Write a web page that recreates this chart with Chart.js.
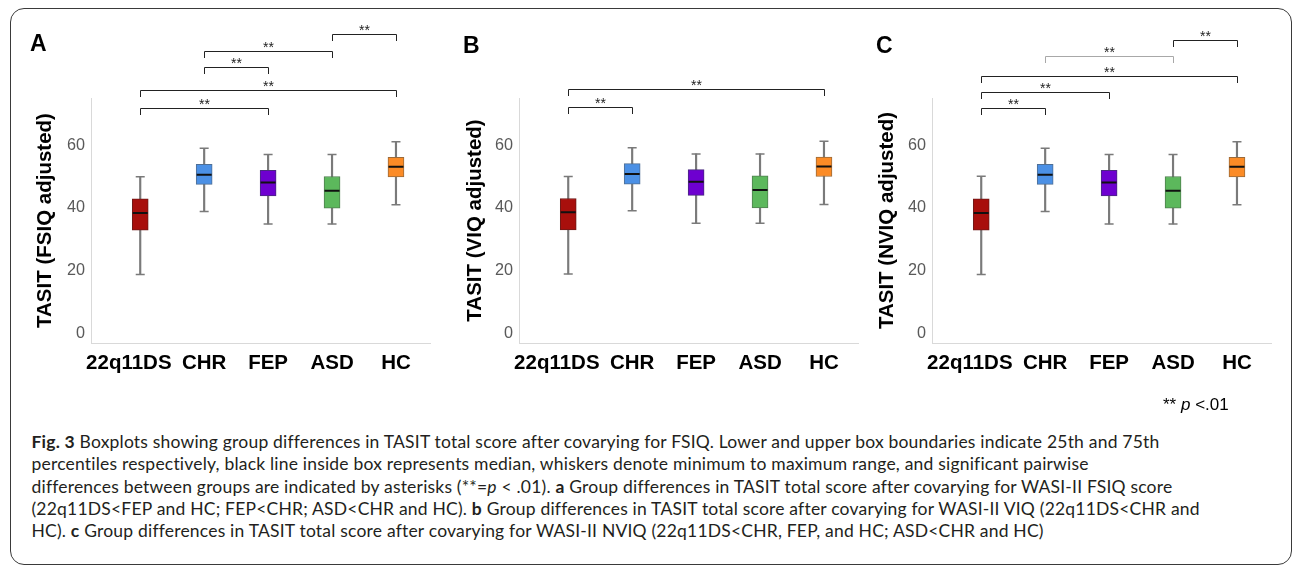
<!DOCTYPE html>
<html>
<head>
<meta charset="utf-8">
<script src="https://cdn.jsdelivr.net/npm/chart.js@4.4.1/dist/chart.umd.min.js"></script>
<style>
  body { margin: 0; width: 1292px; height: 567px; overflow: hidden; position: relative; background: #fff; font-family: 'Liberation Sans', Arial, sans-serif; }
  #frame { position: absolute; left: 10px; top: 8px; width: 1282px; height: 557px; border: 1.5px solid #3a3a3a; border-radius: 14px; box-sizing: border-box; }
  canvas { position: absolute; top: 0; }
  .letter { position: absolute; font: bold 23px 'Liberation Sans', Arial, sans-serif; line-height: 23px; color: #000; }
  #pnote { position: absolute; left: 1163px; top: 395px; font-size: 17px; line-height: 20px; color: #000; }
  #caption { position: absolute; left: 31.5px; top: 431px; font-family: Lato, sans-serif; font-size: 17.5px; letter-spacing: 0.2px; line-height: 22.25px; color: #231f20; white-space: nowrap; }
</style>
</head>
<body>
<div id="frame"></div>
<canvas id="chartA" width="430" height="400" style="left:10px"></canvas>
<canvas id="chartB" width="430" height="400" style="left:438px"></canvas>
<canvas id="chartC" width="430" height="400" style="left:851px"></canvas>
<div class="letter" style="left:30px;top:32px">A</div>
<div class="letter" style="left:463px;top:34px">B</div>
<div class="letter" style="left:876px;top:34px">C</div>
<div id="pnote">** <i>p</i> &lt;.01</div>
<div id="caption">
<b>Fig. 3</b> Boxplots showing group differences in TASIT total score after covarying for FSIQ. Lower and upper box boundaries indicate 25th and 75th<br>
percentiles respectively, black line inside box represents median, whiskers denote minimum to maximum range, and significant pairwise<br>
differences between groups are indicated by asterisks (**=<i>p</i> &lt; .01). <b>a</b> Group differences in TASIT total score after covarying for WASI-II FSIQ score<br>
(22q11DS&lt;FEP and HC; FEP&lt;CHR; ASD&lt;CHR and HC). <b>b</b> Group differences in TASIT total score after covarying for WASI-II VIQ (22q11DS&lt;CHR and<br>
HC). <b>c</b> Group differences in TASIT total score after covarying for WASI-II NVIQ (22q11DS&lt;CHR, FEP, and HC; ASD&lt;CHR and HC)
</div>
<script>
const groups = ['22q11DS', 'CHR', 'FEP', 'ASD', 'HC'];
const yTicks = [0, 20, 40, 60];

// A: FSIQ adjusted
const minA = [18.8, 38.9, 34.9, 34.9, 41.0];
const q1A  = [32.9, 47.5, 43.8, 39.9, 49.9];
const medA = [38.4, 50.6, 48.1, 45.5, 53.1];
const q3A  = [42.9, 53.9, 52.0, 50.0, 56.1];
const maxA = [49.9, 59.0, 57.0, 57.0, 61.1];
const sigA = [[0, 2], [0, 4], [1, 2], [1, 3], [3, 4]];

// B: VIQ adjusted
const minB = [19.0, 39.1, 35.1, 35.1, 41.1];
const q1B  = [33.0, 47.6, 44.0, 40.0, 50.0];
const medB = [38.6, 50.8, 48.3, 45.7, 53.2];
const q3B  = [43.0, 54.1, 52.2, 50.2, 56.2];
const maxB = [50.0, 59.2, 57.2, 57.2, 61.2];
const sigB = [[0, 1], [0, 4]];

// C: NVIQ adjusted
const minC = [18.8, 38.9, 34.9, 34.9, 41.0];
const q1C  = [32.9, 47.5, 43.8, 39.9, 49.9];
const medC = [38.4, 50.6, 48.1, 45.5, 53.1];
const q3C  = [42.9, 53.9, 52.0, 50.0, 56.1];
const maxC = [50.1, 59.0, 57.0, 57.0, 61.1];
const sigC = [[0, 1], [0, 2], [0, 4], [1, 3], [3, 4]];

const boxColors = ['#a80f0c', '#4b90e5', '#6e00d0', '#5cb85c', '#fb8b26'];
const boxEdges = ['#6e1a18', '#4f6f95', '#4a2a80', '#4f7f4f', '#9a6a3a'];
const whiskerColor = '#7a7a7a';

const bracketPlugin = {
    id: 'brackets',
    afterDatasetsDraw(chart, args, opts) {
        const ctx = chart.ctx;
        const x = chart.scales.x;
        ctx.save();
        opts.pairs.forEach((p, k) => {
            const x1 = Math.round(x.getPixelForValue(p[0])) + 0.5;
            const x2 = Math.round(x.getPixelForValue(p[1])) + 0.5;
            const y = opts.levels[k];
            ctx.strokeStyle = opts.colors[k];
            ctx.lineWidth = 1;
            ctx.beginPath();
            ctx.moveTo(x1, y + 6.5);
            ctx.lineTo(x1, y);
            ctx.lineTo(x2, y);
            ctx.lineTo(x2, y + 6.5);
            ctx.stroke();
            ctx.fillStyle = '#222';
            ctx.font = '14px "Liberation Sans", Arial, sans-serif';
            ctx.textAlign = 'center';
            ctx.textBaseline = 'alphabetic';
            ctx.fillText('**', (x1 + x2) / 2, y + 0.5);
        });
        ctx.restore();
    }
};

// the first label sits a little left of its box in the original
const tickText = (v, i) => (i === 0 ? groups[i] + '    ' : groups[i]);

function boxPanel(id, mins, q1s, meds, q3s, maxs, title, titlePad, sig, levels, colors) {
    const whiskers = groups.map((g, i) => ({ x: i, y: [mins[i], maxs[i]] }));
    const boxes = groups.map((g, i) => ({ x: i, y: [q1s[i], q3s[i]] }));
    const medians = meds.map((v, i) => ({ x: i, y: v }));
    const caps = mins.map((v, i) => ({ x: i, y: v })).concat(maxs.map((v, i) => ({ x: i, y: v })));

    new Chart(document.getElementById(id), {
        type: 'bar',
        data: {
            datasets: [
                { data: whiskers, backgroundColor: whiskerColor, barThickness: 1.5, grouped: false, order: 4 },
                { data: boxes, backgroundColor: boxColors, borderColor: boxEdges, borderWidth: 1, borderSkipped: false, barThickness: 16, grouped: false, order: 3 },
                { type: 'scatter', data: caps, pointStyle: 'line', pointRadius: 4.5, borderColor: whiskerColor, borderWidth: 1.5, order: 2 },
                { type: 'scatter', data: medians, pointStyle: 'line', pointRadius: 7.5, borderColor: '#111', borderWidth: 2, order: 1 }
            ]
        },
        options: {
            responsive: false,
            animation: false,
            events: [],
            layout: { padding: { top: 98, right: 5.7, left: 0, bottom: 0 } },
            plugins: {
                legend: { display: false },
                tooltip: { enabled: false },
                brackets: { pairs: sig, levels: levels, colors: colors }
            },
            scales: {
                x: {
                    type: 'linear',
                    offset: false,
                    min: -0.77,
                    max: 4.54,
                    grid: { display: false, drawTicks: false, offset: false },
                    border: { color: '#d9d9d9' },
                    afterBuildTicks: s => { s.ticks = groups.map((g, i) => ({ value: i })); },
                    afterFit: s => { s.height = 57; },
                    ticks: {
                        callback: tickText,
                        autoSkip: false,
                        maxRotation: 0,
                        padding: 8,
                        color: '#000',
                        font: { family: '"Liberation Sans", Arial, sans-serif', size: 20.5, weight: 'bold' }
                    }
                },
                y: {
                    min: -3,
                    max: 75,
                    grid: { display: false, drawTicks: false },
                    border: { color: '#d9d9d9' },
                    afterBuildTicks: s => { s.ticks = yTicks.map(v => ({ value: v })); },
                    afterFit: s => { s.width = 81; },
                    ticks: {
                        padding: 6,
                        color: '#595959',
                        font: { family: '"Liberation Sans", Arial, sans-serif', size: 16.2 }
                    },
                    title: {
                        display: true,
                        text: title,
                        color: '#000',
                        padding: { top: titlePad, bottom: 0 },
                        font: { family: '"Liberation Sans", Arial, sans-serif', size: 20.5, weight: 'bold' }
                    }
                }
            }
        },
        plugins: [bracketPlugin]
    });
}

const dark = '#222';
boxPanel('chartA', minA, q1A, medA, q3A, maxA, 'TASIT (FSIQ adjusted)', 22.7, sigA,
    [108.5, 90.5, 67.5, 51.5, 34.5], [dark, dark, dark, dark, dark]);
boxPanel('chartB', minB, q1B, medB, q3B, maxB, 'TASIT (VIQ adjusted)', 24.7, sigB,
    [107.5, 89.5], [dark, dark]);
boxPanel('chartC', minC, q1C, medC, q3C, maxC, 'TASIT (NVIQ adjusted)', 23.7, sigC,
    [108.5, 92.5, 76.5, 56.5, 40.5], [dark, dark, dark, '#a8a8a8', dark]);
</script>
</body>
</html>
